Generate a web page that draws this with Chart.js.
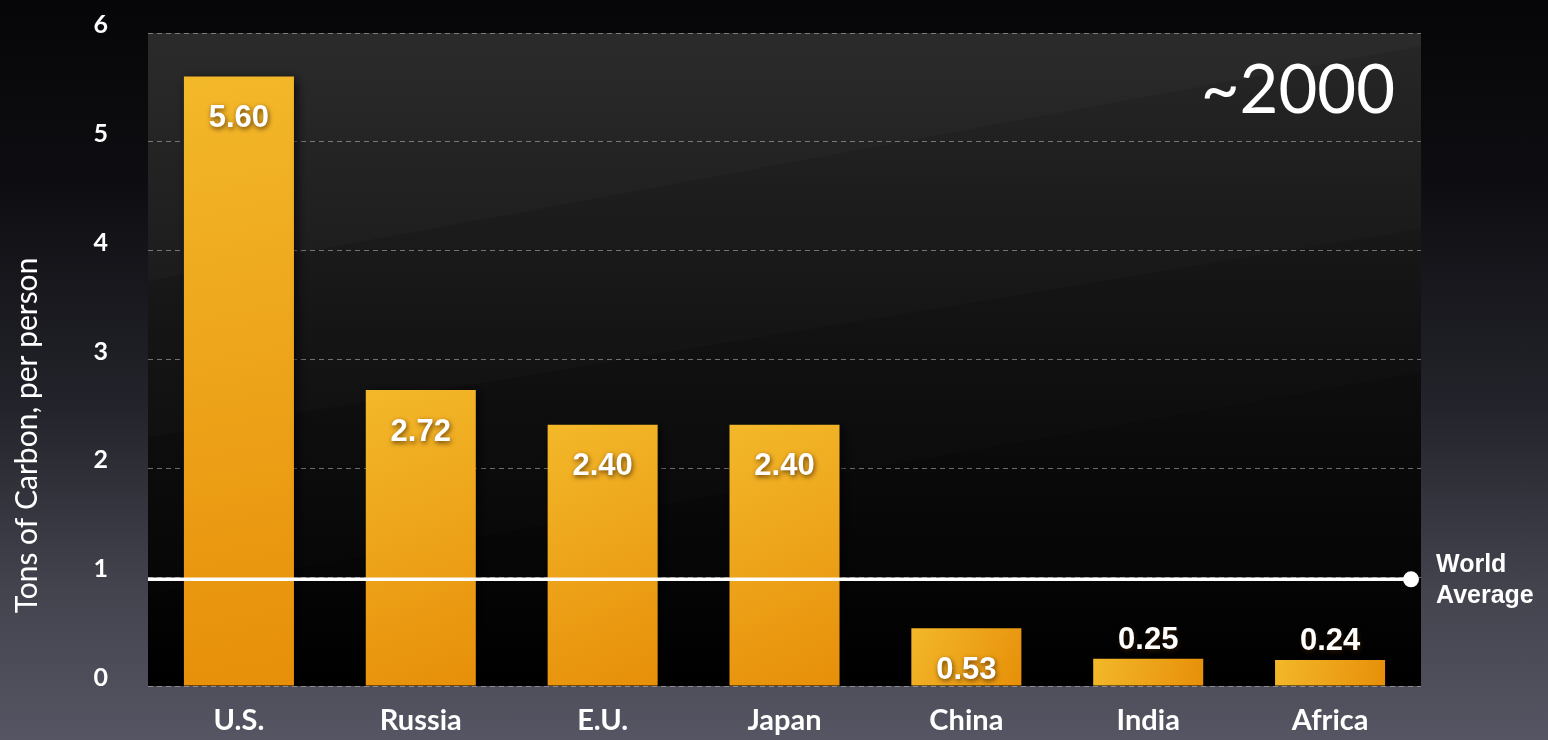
<!DOCTYPE html>
<html>
<head>
<meta charset="utf-8">
<script src="https://cdn.jsdelivr.net/npm/chart.js@4.4.1/dist/chart.umd.min.js"></script>
<style>
  html, body { margin: 0; padding: 0; }
  body {
    width: 1548px; height: 740px; overflow: hidden;
    background: linear-gradient(180deg, #060608 0%, #0e0e12 25%, #23232b 55%, #44444f 80%, #555563 100%);
  }
  canvas { display: block; }
</style>
</head>
<body>
<canvas id="c" width="1548" height="740"></canvas>
<script>
// ---- data ----
const categories = ['U.S.', 'Russia', 'E.U.', 'Japan', 'China', 'India', 'Africa'];
const carbonPerPerson = [5.60, 2.72, 2.40, 2.40, 0.53, 0.25, 0.24];
const valueLabels = ['5.60', '2.72', '2.40', '2.40', '0.53', '0.25', '0.24'];
const yTickValues = [0, 1, 2, 3, 4, 5, 6];
const worldAverage = 0.98;
const worldAverageLabel = ['World', 'Average'];
const yearLabel = '~2000';
const yAxisTitle = 'Tons of Carbon, per person';

// ---- plugins ----
const plotBackground = {
  id: 'plotBackground',
  beforeDraw(chart) {
    const { ctx, chartArea: a } = chart;
    ctx.save();
    const g = ctx.createLinearGradient(0, a.top, 0, a.bottom);
    g.addColorStop(0, '#222222');
    g.addColorStop(0.45, '#101010');
    g.addColorStop(1, '#000000');
    ctx.fillStyle = g;
    ctx.fillRect(a.left, a.top, a.right - a.left, a.bottom - a.top);
    // subtle diagonal streaks (bands rising to the right)
    ctx.beginPath();
    ctx.rect(a.left, a.top, a.right - a.left, a.bottom - a.top);
    ctx.clip();
    const h = a.bottom - a.top;
    const streaks = [
      [0.38, 0.02, 0.018],
      [0.62, 0.30, 0.014],
      [0.86, 0.52, 0.012]
    ];
    streaks.forEach(s => {
      ctx.fillStyle = 'rgba(255,255,255,' + s[2] + ')';
      ctx.beginPath();
      ctx.moveTo(a.left, a.top + s[0] * h);
      ctx.lineTo(a.right, a.top + s[1] * h);
      ctx.lineTo(a.right, a.top);
      ctx.lineTo(a.left, a.top);
      ctx.closePath();
      ctx.fill();
    });
    ctx.restore();
  }
};

const barStyling = {
  id: 'barStyling',
  beforeDatasetsDraw(chart) {
    const { ctx } = chart;
    const meta = chart.getDatasetMeta(0);
    meta.data.forEach(bar => {
      const g = ctx.createLinearGradient(bar.x - bar.width / 2, bar.y, bar.x + bar.width / 2, bar.base);
      g.addColorStop(0, '#f3b82a');
      g.addColorStop(1, '#e78f09');
      bar.options = Object.assign({}, bar.options, { backgroundColor: g });
    });
    ctx.save();
    ctx.shadowColor = 'rgba(0,0,0,0.7)';
    ctx.shadowBlur = 10;
    ctx.shadowOffsetX = 3;
    ctx.shadowOffsetY = 2;
  },
  afterDatasetsDraw(chart) {
    chart.ctx.restore();
  }
};

const overlay = {
  id: 'overlay',
  afterDatasetsDraw(chart) {
    const { ctx, chartArea: a, scales } = chart;
    const y = scales.y;
    // value labels
    const meta = chart.getDatasetMeta(0);
    ctx.save();
    ctx.font = 'bold 31px "Liberation Sans", Arial, sans-serif';
    ctx.fillStyle = '#ffffff';
    ctx.textAlign = 'center';
    ctx.textBaseline = 'middle';
    ctx.shadowColor = 'rgba(60,30,0,0.75)';
    ctx.shadowBlur = 5;
    ctx.shadowOffsetX = 1;
    ctx.shadowOffsetY = 2;
    meta.data.forEach((bar, i) => {
      const h = bar.base - bar.y;
      const ty = h > 50 ? bar.y + 42 : bar.y - 18;
      ctx.fillText(valueLabels[i], bar.x, ty);
    });
    ctx.restore();

    // world average line
    const wy = y.getPixelForValue(worldAverage);
    const xEnd = a.right - 10;
    ctx.save();
    ctx.strokeStyle = '#ffffff';
    ctx.lineWidth = 3.5;
    ctx.beginPath();
    ctx.moveTo(a.left, wy);
    ctx.lineTo(xEnd, wy);
    ctx.stroke();
    ctx.fillStyle = '#ffffff';
    ctx.beginPath();
    ctx.arc(xEnd, wy, 8, 0, Math.PI * 2);
    ctx.fill();
    ctx.font = 'bold 25px "Liberation Sans", Arial, sans-serif';
    ctx.textAlign = 'left';
    ctx.textBaseline = 'middle';
    ctx.fillText(worldAverageLabel[0], a.right + 15, wy - 14);
    ctx.fillText(worldAverageLabel[1], a.right + 15, wy + 17);
    ctx.restore();

    // year label
    ctx.save();
    ctx.font = '67px Lato, "Open Sans", sans-serif';
    ctx.fillStyle = '#ffffff';
    ctx.textAlign = 'right';
    ctx.textBaseline = 'middle';
    ctx.fillText(yearLabel, a.right - 26, a.top + 58);
    ctx.restore();

    // y axis title
    ctx.save();
    ctx.translate(27, (a.top + a.bottom) / 2 + 76);
    ctx.rotate(-Math.PI / 2);
    ctx.font = '30px Lato, "Open Sans", sans-serif';
    ctx.fillStyle = '#ffffff';
    ctx.textAlign = 'center';
    ctx.textBaseline = 'middle';
    ctx.fillText(yAxisTitle, 0, 0);
    ctx.restore();
  }
};

new Chart(document.getElementById('c'), {
  type: 'bar',
  data: {
    labels: categories,
    datasets: [{
      data: carbonPerPerson,
      backgroundColor: '#eea01a',
      borderWidth: 0,
      barPercentage: 0.605,
      categoryPercentage: 1.0
    }]
  },
  options: {
    responsive: false,
    animation: false,
    devicePixelRatio: 1,
    layout: { padding: { left: 0, right: 127, top: 33, bottom: 0 } },
    plugins: { legend: { display: false }, tooltip: { enabled: false } },
    scales: {
      x: {
        grid: { display: false, drawTicks: false },
        border: { display: false },
        ticks: {
          color: '#ffffff',
          font: { family: 'Lato, "Open Sans", sans-serif', size: 29, weight: 'bold' },
          padding: 17,
          maxRotation: 0
        },
        afterFit(s) { s.height = 54; }
      },
      y: {
        min: 0, max: 6,
        afterBuildTicks(s) { s.ticks = yTickValues.map(v => ({ value: v })); },
        grid: {
          color: 'rgba(190,190,190,0.55)',
          lineWidth: 1,
          drawTicks: false
        },
        border: { display: false, dash: [5, 4] },
        ticks: {
          color: '#ffffff',
          font: { family: 'Lato, "Open Sans", sans-serif', size: 25, weight: 'bold' },
          padding: 40,
          crossAlign: 'center',
          labelOffset: -8,
          callback: v => String(v)
        },
        afterFit(s) { s.width = 148; s.paddingTop = 0; s.paddingBottom = 0; }
      }
    }
  },
  plugins: [plotBackground, barStyling, overlay]
});
</script>
</body>
</html>
